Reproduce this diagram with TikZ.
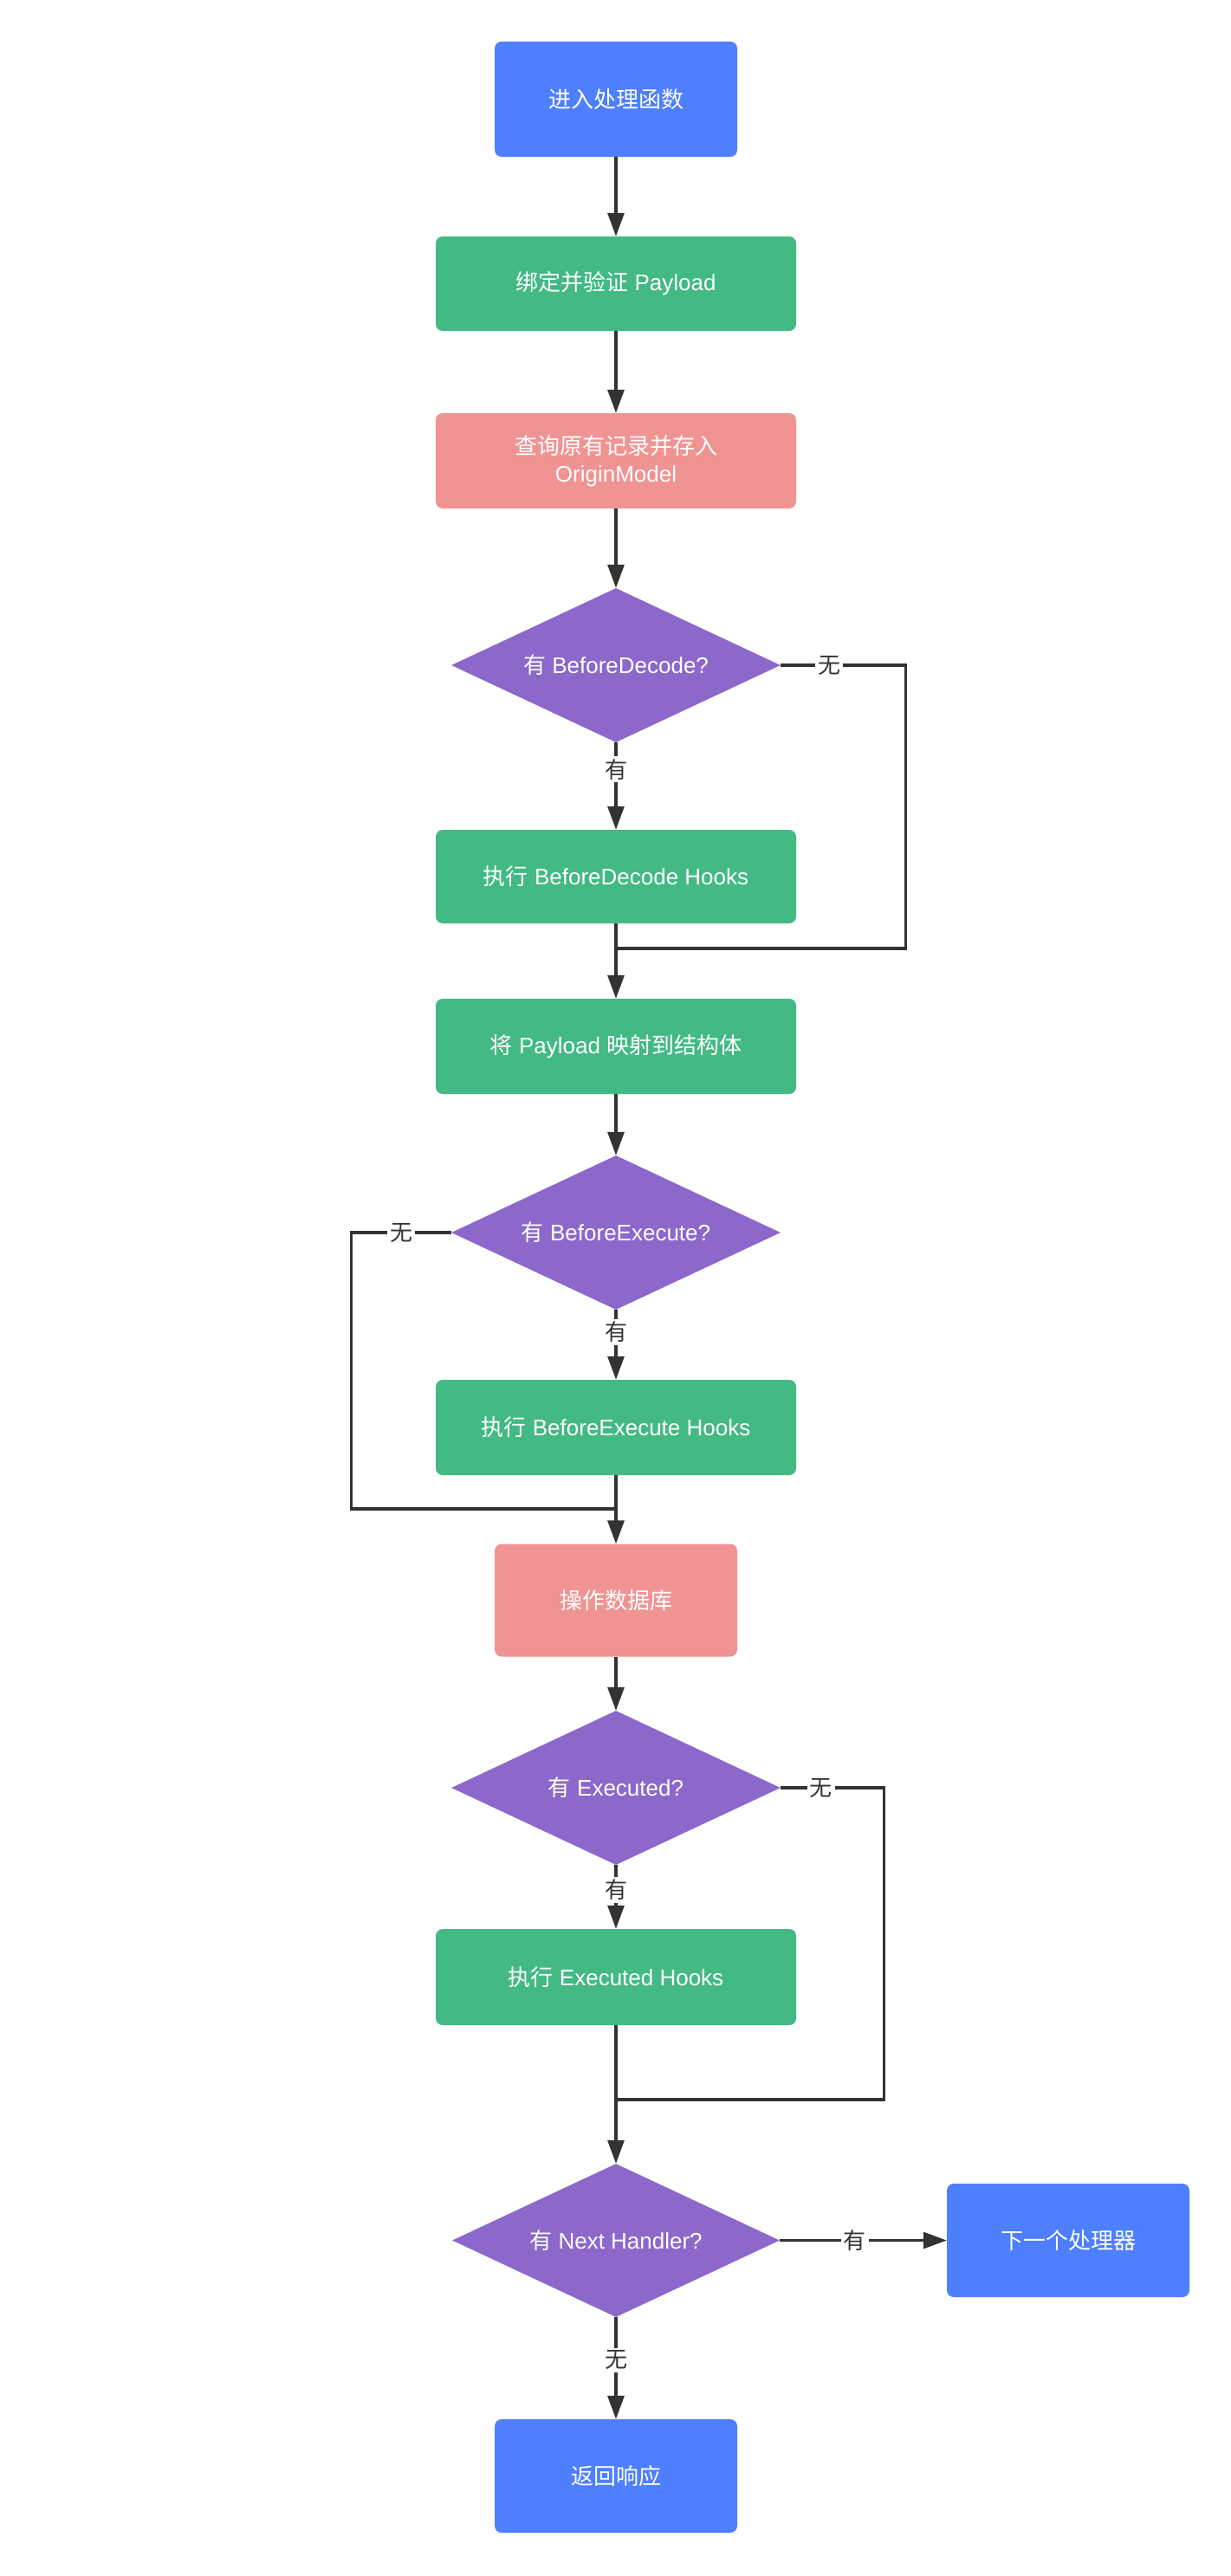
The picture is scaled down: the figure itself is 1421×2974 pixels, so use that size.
\documentclass[tikz,border=0pt]{standalone}
\usepackage{fontspec}
\setmainfont{Liberation Sans}
\newfontfamily\cjk{Noto Sans CJK SC}
\usetikzlibrary{shapes.geometric,arrows.meta}
\definecolor{cblue}{HTML}{4D7FFF}
\definecolor{cgreen}{HTML}{43B984}
\definecolor{cpink}{HTML}{F09493}
\definecolor{cpurple}{HTML}{8C68CB}
\definecolor{cline}{HTML}{333333}
\begin{document}
\begin{tikzpicture}[x=1pt,y=-1pt,
  box/.style={rectangle, rounded corners=8pt, inner sep=0pt, text=white, align=center, font=\fontsize{26}{32}\selectfont},
  bluebox/.style={box, fill=cblue, minimum width=280pt, minimum height=131pt},
  greenbox/.style={box, fill=cgreen, minimum width=416pt, minimum height=109pt},
  pinkbox/.style={box, fill=cpink},
  decision/.style={diamond, aspect=2.13, fill=cpurple, inner sep=0pt, minimum width=380pt, minimum height=178pt, text=white, font=\fontsize{26}{32}\selectfont},
  conn/.style={draw=cline, line width=3.2pt, -{Triangle[length=27pt,width=19pt]}},
  plain/.style={draw=cline, line width=3.2pt},
  lbl/.style={fill=white, text=cline, inner sep=3pt, font=\fontsize{26}{32}\selectfont}
]
\fill[white] (0,0) rectangle (1421,2974);
\useasboundingbox (0,0) rectangle (1421,2974);

\node[bluebox, minimum height=133pt] (b1) at (711,114.5) {{\cjk 进入处理函数}};
\node[greenbox] (b2) at (711,327.5) {{\cjk 绑定并验证} Payload};
\node[pinkbox, minimum width=416pt, minimum height=110pt] (b3) at (711,532) {{\cjk 查询原有记录并存入}\\OriginModel};
\node[decision] (d1) at (711,768) {{\cjk 有} BeforeDecode?};
\node[greenbox, minimum height=108pt] (b4) at (711,1012) {{\cjk 执行} BeforeDecode Hooks};
\node[greenbox, minimum height=110pt] (b5) at (711,1208) {{\cjk 将} Payload {\cjk 映射到结构体}};
\node[decision] (d2) at (711,1423) {{\cjk 有} BeforeExecute?};
\node[greenbox, minimum height=110pt] (b6) at (711,1648) {{\cjk 执行} BeforeExecute Hooks};
\node[pinkbox, minimum width=280pt, minimum height=130pt] (b7) at (711,1847.5) {{\cjk 操作数据库}};
\node[decision] (d3) at (711,2064) {{\cjk 有} Executed?};
\node[greenbox, minimum height=111pt] (b8) at (711,2282.5) {{\cjk 执行} Executed Hooks};
\node[decision, minimum width=378pt, minimum height=177pt] (d4) at (711,2586.5) {{\cjk 有} Next Handler?};
\node[bluebox] (b9) at (1233,2586.5) {{\cjk 下一个处理器}};
\node[bluebox] (b10) at (711,2858.5) {{\cjk 返回响应}};

\coordinate (m1) at (711,1095);
\coordinate (m2) at (711,1742);
\coordinate (m3) at (711,2424);

\draw[conn] (b1.south) -- (b2.north);
\draw[conn] (b2.south) -- (b3.north);
\draw[conn] (b3.south) -- (d1.north);
\draw[conn] (d1.south) -- node[lbl, pos=0.31] {{\cjk 有}} (b4.north);
\draw[plain] (d1.east) -- node[lbl, pos=0.39] {{\cjk 无}} ++(144,0) |- (m1);
\draw[conn] (b4.south) -- (b5.north);
\draw[conn] (b5.south) -- (d2.north);
\draw[conn] (d2.south) -- node[lbl, pos=0.32] {{\cjk 有}} (b6.north);
\draw[plain] (d2.west) -- node[lbl, pos=0.5] {{\cjk 无}} ++(-115,0) |- (m2);
\draw[conn] (b6.south) -- (b7.north);
\draw[conn] (b7.south) -- (d3.north);
\draw[conn] (d3.south) -- node[lbl, pos=0.39] {{\cjk 有}} (b8.north);
\draw[plain] (d3.east) -- node[lbl, pos=0.39] {{\cjk 无}} ++(119,0) |- (m3);
\draw[conn] (b8.south) -- (d4.north);
\draw[conn] (d4.east) -- node[lbl, pos=0.45] {{\cjk 有}} (b9.west);
\draw[conn] (d4.south) -- node[lbl, pos=0.42] {{\cjk 无}} (b10.north);
\end{tikzpicture}
\end{document}
